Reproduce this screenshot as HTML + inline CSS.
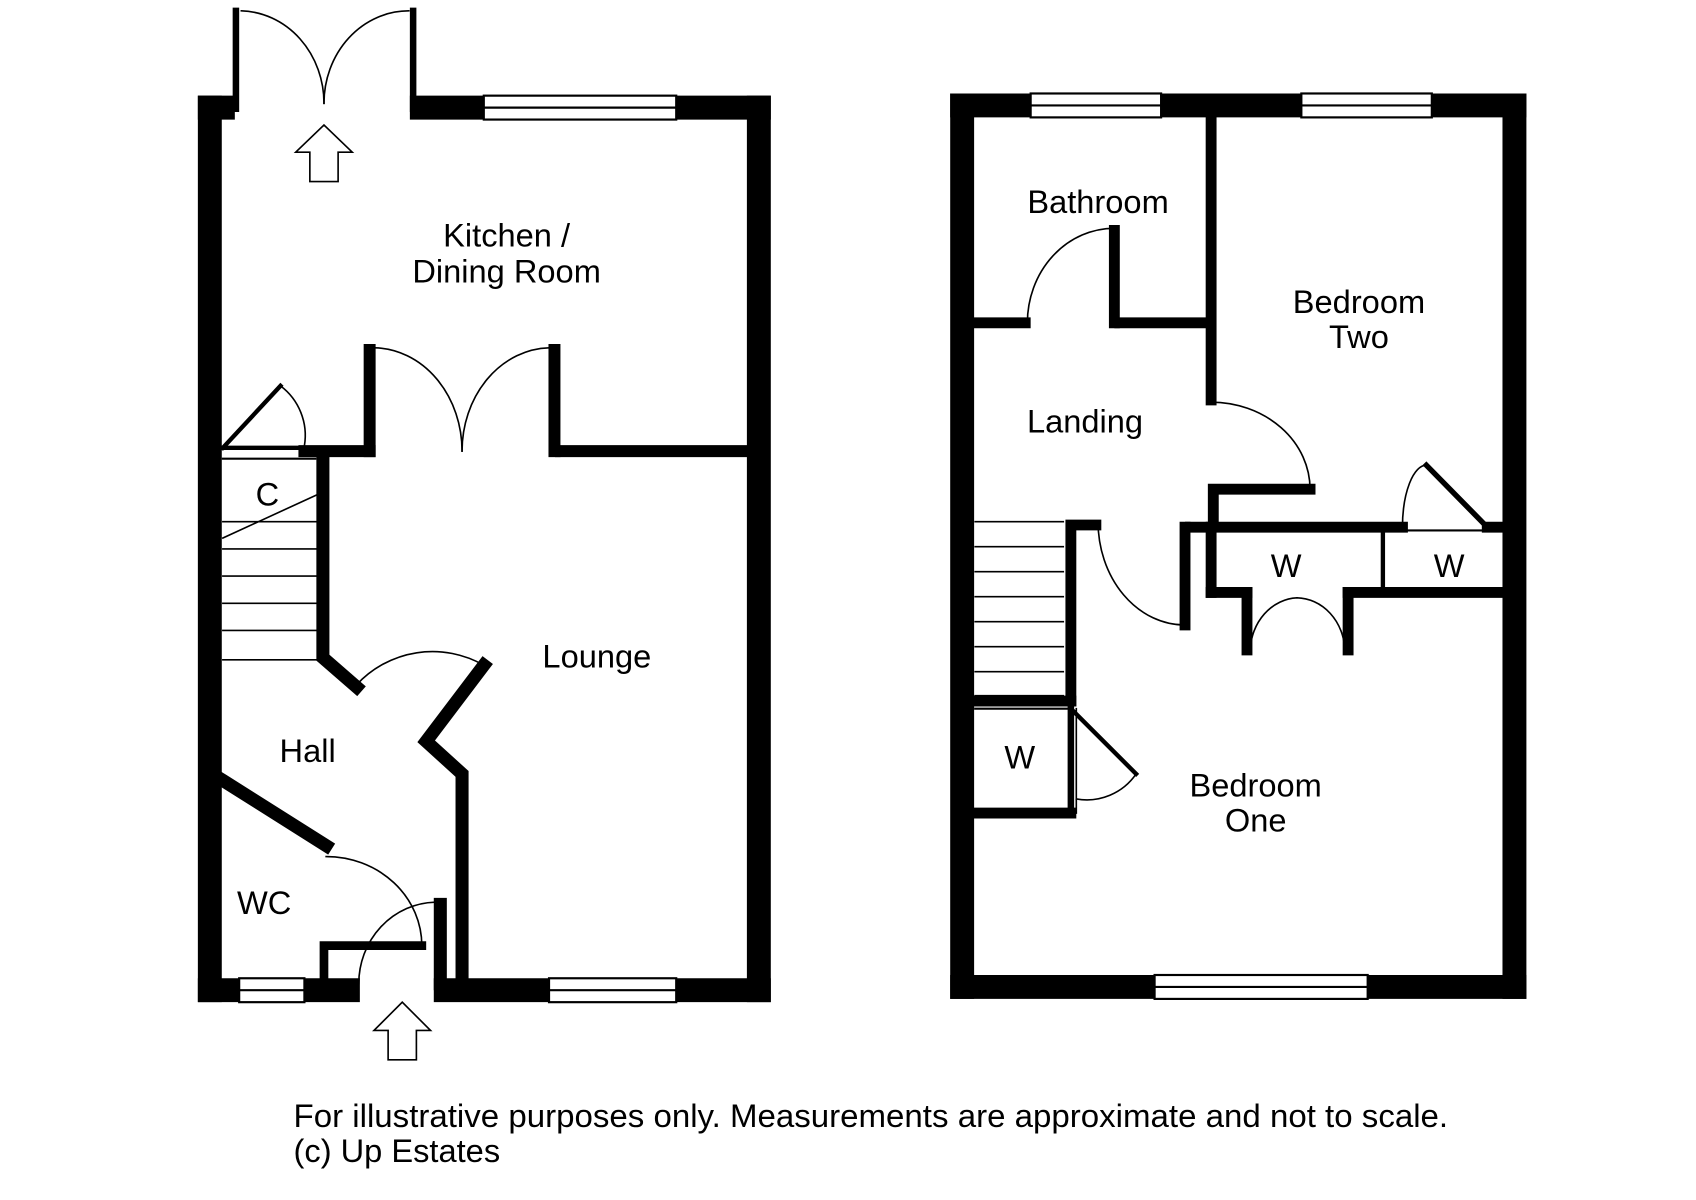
<!DOCTYPE html>
<html><head><style>html,body{margin:0;padding:0;background:#fff}svg{display:block}text{font-family:"Liberation Sans",sans-serif;font-size:30px;fill:#000}</style></head><body>
<svg width="1696" height="1200" viewBox="0 0 1560 1104" preserveAspectRatio="none" xmlns="http://www.w3.org/2000/svg">
<g stroke="#000" stroke-linecap="square" fill="none">
<g stroke-width="22">
<line x1="193" y1="99" x2="193" y2="911"/>
<line x1="698" y1="99" x2="698" y2="911"/>
<line x1="193" y1="99" x2="205" y2="99"/>
<line x1="388" y1="99" x2="445" y2="99"/>
<line x1="622" y1="99" x2="698" y2="99"/>
<line x1="193" y1="911" x2="220" y2="911"/>
<line x1="280" y1="911" x2="320" y2="911"/>
<line x1="410" y1="911" x2="505" y2="911"/>
<line x1="622" y1="911" x2="698" y2="911"/>
</g>
<g stroke-width="2" fill="#fff">
<rect x="445" y="88" width="177" height="22"/><line x1="445" y1="99" x2="622" y2="99"/>
<rect x="220" y="900" width="60" height="22"/><line x1="220" y1="911" x2="280" y2="911"/>
<rect x="505" y="900" width="117" height="22"/><line x1="505" y1="911" x2="622" y2="911"/>
</g>
<g stroke-width="6"><line x1="217" y1="10" x2="217" y2="100"/><line x1="380" y1="10" x2="380" y2="100"/></g>
<g stroke-width="1.5"><path d="M222 10 A78 85 0 0 1 298 95"/><path d="M376 10 A78 85 0 0 0 298 95"/></g>
<path d="M285 167 V140 H272 L298 115 L324 140 H311 V167 Z" stroke-width="1.5" fill="#fff"/>
<g stroke-width="11">
<line x1="516" y1="415" x2="692" y2="415"/>
<line x1="510" y1="322" x2="510" y2="415"/>
<line x1="340" y1="322" x2="340" y2="415"/>
<line x1="280" y1="415" x2="340" y2="415"/>
</g>
<g stroke-width="1.5"><path d="M345 320 A82 95 0 0 1 425 415"/><path d="M505 320 A82 95 0 0 0 425 415"/></g>
<line x1="205" y1="412" x2="280" y2="412" stroke-width="4"/>
<line x1="205" y1="412" x2="258" y2="355" stroke-width="4"/>
<path d="M258 355 A57 57 0 0 1 280 410" stroke-width="1.5"/>
<line x1="205" y1="422" x2="290" y2="422" stroke-width="2"/>
<path d="M297 422 V605 L328 632" stroke-width="12"/>
<path d="M328 630 A95 95 0 0 1 445 612" stroke-width="1.5"/>
<path d="M445 612 L392 682 L425 712 V905" stroke-width="12"/>
<g stroke-width="1.5">
<line x1="205" y1="480" x2="292" y2="480"/><line x1="205" y1="505" x2="292" y2="505"/><line x1="205" y1="530" x2="292" y2="530"/><line x1="205" y1="555" x2="292" y2="555"/><line x1="205" y1="580" x2="292" y2="580"/><line x1="205" y1="607" x2="292" y2="607"/>
<line x1="205" y1="495" x2="292" y2="455"/>
</g>
<path d="M205 718 L300 778" stroke-width="12"/>
<path d="M300 788 A88 82 0 0 1 388 870" stroke-width="1.5"/>
<path d="M298 900 V870 H388" stroke-width="8"/>
<line x1="405" y1="832" x2="405" y2="905" stroke-width="12"/>
<path d="M400 830 A72 75 0 0 0 330 905" stroke-width="1.5"/>
<path d="M357 975 V948 H344 L370 922 L396 948 H383 V975 Z" stroke-width="1.5" fill="#fff"/>

<g stroke-width="22">
<line x1="885" y1="97" x2="885" y2="908"/>
<line x1="1393" y1="97" x2="1393" y2="908"/>
<line x1="885" y1="97" x2="948" y2="97"/>
<line x1="1068" y1="97" x2="1197" y2="97"/>
<line x1="1317" y1="97" x2="1393" y2="97"/>
<line x1="885" y1="908" x2="1062" y2="908"/>
<line x1="1258" y1="908" x2="1393" y2="908"/>
</g>
<g stroke-width="2" fill="#fff">
<rect x="948" y="86" width="120" height="22"/><line x1="948" y1="97" x2="1068" y2="97"/>
<rect x="1197" y="86" width="120" height="22"/><line x1="1197" y1="97" x2="1317" y2="97"/>
<rect x="1062" y="897" width="196" height="22"/><line x1="1062" y1="908" x2="1258" y2="908"/>
</g>
<g stroke-width="10">
<line x1="1114" y1="105" x2="1114" y2="368"/>
<line x1="897" y1="297" x2="943" y2="297"/>
<line x1="1030" y1="297" x2="1110" y2="297"/>
<line x1="1025" y1="212" x2="1025" y2="297"/>
<path d="M1205 450 H1116 V480"/>
<line x1="1095" y1="485" x2="1290" y2="485"/>
<line x1="1368" y1="485" x2="1385" y2="485"/>
<line x1="1090" y1="485" x2="1090" y2="575"/>
<path d="M985 645 V483 H1008"/>
<line x1="893" y1="645" x2="985" y2="645"/>
<line x1="897" y1="748" x2="985" y2="748"/>
<line x1="1114" y1="485" x2="1114" y2="545"/>
<line x1="1114" y1="545" x2="1147" y2="545"/>
<line x1="1240" y1="545" x2="1385" y2="545"/>
<line x1="1147" y1="545" x2="1147" y2="598"/>
<line x1="1240" y1="545" x2="1240" y2="598"/>
<line x1="985" y1="650" x2="985" y2="748" stroke-width="6"/>
</g>
<line x1="1272" y1="490" x2="1272" y2="545" stroke-width="4"/>
<line x1="1290" y1="488" x2="1368" y2="488" stroke-width="2"/>
<line x1="1312" y1="428" x2="1368" y2="485" stroke-width="5"/>
<line x1="897" y1="652" x2="985" y2="652" stroke-width="2"/>
<g stroke-width="1.5">
<path d="M1025 210 A80 87 0 0 0 945 297"/>
<path d="M1114 370 A91 80 0 0 1 1205 450"/>
<path d="M1010 480 A80 95 0 0 0 1090 575"/>
<path d="M1312 428 A22 57 0 0 0 1290 485"/>
<path d="M1150 598 A45 50 0 0 1 1193 550"/>
<path d="M1237 598 A45 50 0 0 0 1193 550"/>
<path d="M1045 712 A55 55 0 0 1 990 735"/>
<line x1="990" y1="652" x2="990" y2="748"/>
<line x1="985" y1="652" x2="1045" y2="712" stroke-width="4"/>
<line x1="897" y1="480" x2="978" y2="480"/><line x1="897" y1="503" x2="978" y2="503"/><line x1="897" y1="526" x2="978" y2="526"/><line x1="897" y1="549" x2="978" y2="549"/><line x1="897" y1="572" x2="978" y2="572"/><line x1="897" y1="595" x2="978" y2="595"/><line x1="897" y1="618" x2="978" y2="618"/><line x1="897" y1="640" x2="978" y2="640"/>
</g>
</g>
<g text-anchor="middle">
<text x="466" y="227">Kitchen /</text>
<text x="466" y="260">Dining Room</text>
<text x="549" y="614">Lounge</text>
<text x="283" y="701">Hall</text>
<text x="243" y="841">WC</text>
<text x="246" y="465">C</text>
<text x="1010" y="196">Bathroom</text>
<text x="1250" y="288">Bedroom</text>
<text x="1250" y="320">Two</text>
<text x="998" y="398">Landing</text>
<text x="1183" y="531">W</text>
<text x="1333" y="531">W</text>
<text x="938" y="707">W</text>
<text x="1155" y="733">Bedroom</text>
<text x="1155" y="765">One</text>
</g>
<text x="270" y="1037" textLength="1062" lengthAdjust="spacingAndGlyphs">For illustrative purposes only. Measurements are approximate and not to scale.</text>
<text x="270" y="1069">(c) Up Estates</text>
</svg>
</body></html>
